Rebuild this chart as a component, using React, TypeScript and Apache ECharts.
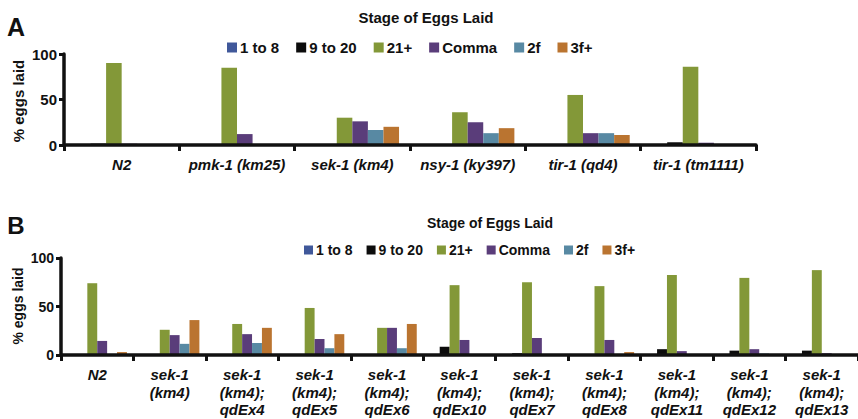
import React, { useEffect, useRef } from "react";
import * as echarts from "echarts";

const seriesNames = ["1 to 8", "9 to 20", "21+", "Comma", "2f", "3f+"];
const seriesColors = ["#40589a", "#0c0c0c", "#839838", "#5a3d7a", "#5889a3", "#ba7430"];

const categoriesA = ["N2", "pmk-1 (km25)", "sek-1 (km4)", "nsy-1 (ky397)", "tir-1 (qd4)", "tir-1 (tm1111)"];
const a1to8 = [0, 0, 0, 0, 0, 0];
const a9to20 = [1.5, 0, 0, 0, 0, 3];
const a21 = [90, 85, 30, 36, 55, 86];
const aComma = [1.5, 12, 26, 25, 13, 2.5];
const a2f = [0, 0, 16.5, 13, 13, 0];
const a3f = [0, 0, 20, 18.5, 11, 0];

const categoriesB = [
  "N2",
  "sek-1\n(km4)",
  "sek-1\n(km4);\nqdEx4",
  "sek-1\n(km4);\nqdEx5",
  "sek-1\n(km4);\nqdEx6",
  "sek-1\n(km4);\nqdEx10",
  "sek-1\n(km4);\nqdEx7",
  "sek-1\n(km4);\nqdEx8",
  "sek-1\n(km4);\nqdEx11",
  "sek-1\n(km4);\nqdEx12",
  "sek-1\n(km4);\nqdEx13",
];
const b1to8 = [0, 0, 0, 0, 0, 0, 0, 0, 0, 0, 0];
const b9to20 = [0, 0, 0, 0, 0, 8.5, 1.8, 0, 6, 4.5, 4.5];
const b21 = [74, 26, 32, 48.5, 28, 72, 75, 71, 82.5, 79.5, 87.5];
const bComma = [14.5, 20.5, 21.5, 16.5, 28, 15.5, 17.5, 15.5, 4, 6, 1.8];
const b2f = [0, 11.5, 12.5, 7, 7, 0, 0, 0, 0, 1.5, 0];
const b3f = [3, 36, 28, 21.5, 32, 0, 0, 3, 0, 0, 0];

const yTicks = [0, 50, 100];

const FONT = "'Liberation Sans', Arial, Helvetica, sans-serif";
const INK = "#111";

export default function App() {
  const ref = useRef<HTMLDivElement>(null);
  useEffect(() => {
    if (!ref.current) return;
    const chart = echarts.init(ref.current, null, { renderer: "svg" });
    const dataA = [a1to8, a9to20, a21, aComma, a2f, a3f];
    const dataB = [b1to8, b9to20, b21, bComma, b2f, b3f];

    const xAxisBase = (idx: number, cats: string[], fs: number, lh: number, margin: number) => ({
      type: "category",
      gridIndex: idx,
      data: cats,
      z: 3,
      axisLine: { lineStyle: { color: INK, width: 3.5 } },
      axisTick: { show: true, length: 6, lineStyle: { color: INK, width: 3 } },
      axisLabel: {
        interval: 0,
        margin,
        color: INK,
        fontFamily: FONT,
        fontSize: fs,
        fontWeight: "bold",
        fontStyle: "italic",
        lineHeight: lh,
      },
    });
    const yAxisBase = (idx: number, fs: number) => ({
      type: "value",
      gridIndex: idx,
      min: 0,
      max: 100,
      interval: 50,
      z: 3,
      splitLine: { show: false },
      axisLine: { show: true, lineStyle: { color: INK, width: 3.5 } },
      axisTick: { show: true, length: 5, lineStyle: { color: INK, width: 3 } },
      axisLabel: {
        margin: 7,
        color: INK,
        fontFamily: FONT,
        fontSize: fs,
        fontWeight: "bold",
        formatter: (v: number) => (yTicks.includes(v) ? String(v) : ""),
      },
    });

    const series: any[] = [];
    seriesNames.forEach((name, i) => {
      series.push({
        type: "bar",
        name,
        xAxisIndex: 0,
        yAxisIndex: 0,
        data: dataA[i],
        itemStyle: { color: seriesColors[i] },
        barGap: "0%",
        barCategoryGap: "19%",
      });
    });
    seriesNames.forEach((name, i) => {
      series.push({
        type: "bar",
        name,
        xAxisIndex: 1,
        yAxisIndex: 1,
        data: dataB[i],
        itemStyle: { color: seriesColors[i] },
        barGap: "0%",
        barCategoryGap: "18%",
      });
    });

    const legendBase = (left: number, top: number, fs: number, sz: number, gap: number) => ({
      left,
      top,
      orient: "horizontal",
      icon: "rect",
      itemWidth: sz,
      itemHeight: sz,
      itemGap: gap,
      selectedMode: false,
      data: seriesNames,
      textStyle: { color: INK, fontFamily: FONT, fontSize: fs, fontWeight: "bold", padding: [0, 0, 0, -2] },
    });

    const txt = (text: string, x: number, y: number, fs: number, rot = 0) => ({
      type: "text",
      x,
      y,
      rotation: rot,
      style: {
        text,
        fill: INK,
        fontFamily: FONT,
        fontSize: fs,
        fontWeight: "bold",
        textAlign: "center",
        textVerticalAlign: "middle",
      },
    });

    chart.setOption({
      animation: false,
      backgroundColor: "#fff",
      grid: [
        { left: 64, right: 102, top: 54, height: 91, containLabel: false },
        { left: 61, right: -6, top: 258, height: 97, containLabel: false },
      ],
      xAxis: [xAxisBase(0, categoriesA, 15, 18, 10), xAxisBase(1, categoriesB, 15, 17.5, 11)],
      yAxis: [yAxisBase(0, 15), yAxisBase(1, 14)],
      legend: [legendBase(222, 35, 15, 10, 17), legendBase(299, 238, 14, 9, 14)],
      graphic: [
        txt("A", 16, 27, 25),
        txt("B", 16, 225, 24),
        txt("Stage of Eggs Laid", 426, 17, 15),
        txt("Stage of Eggs Laid", 490, 223, 14),
        txt("% eggs laid", 18, 101, 15, Math.PI / 2),
        txt("% eggs laid", 18, 306, 14, Math.PI / 2),
      ],
      series,
    });
    return () => chart.dispose();
  }, []);
  return <div ref={ref} style={{ position: "absolute", left: 0, top: 0, width: 858, height: 419 }} />;
}
